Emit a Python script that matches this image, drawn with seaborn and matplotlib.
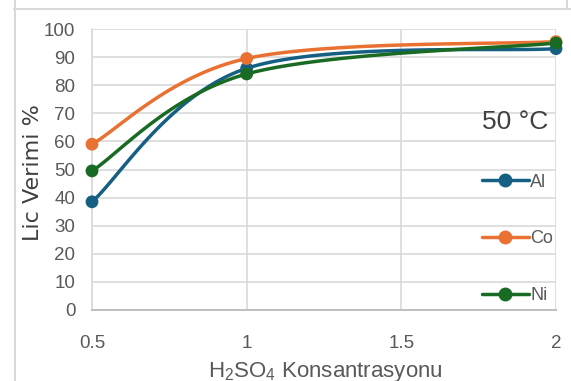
import numpy as np
import pandas as pd
import matplotlib
matplotlib.use("Agg")
import matplotlib.pyplot as plt
import seaborn as sns
from matplotlib.lines import Line2D

# H2SO4 concentration (M) and leaching efficiency (%) at 50 °C
konsantrasyon = [0.5, 1.0, 2.0]
al_verim = [38.5, 86.0, 93.0]
co_verim = [59.0, 89.5, 95.5]
ni_verim = [49.5, 84.0, 95.0]
metaller = ["Al", "Co", "Ni"]
renkler = {"Al": "#156082", "Co": "#E97132", "Ni": "#196B24"}
x_ticks = [0.5, 1, 1.5, 2]
x_tick_labels = ["0.5", "1", "1.5", "2"]
y_ticks = list(range(0, 101, 10))

sns.set_theme(style="white")
plt.rcParams["font.family"] = ["Liberation Sans", "DejaVu Sans"]
plt.rcParams["mathtext.default"] = "regular"

W, H = 571, 381
fig = plt.figure(figsize=(W / 100, H / 100), dpi=100)
ax = fig.add_axes([92 / W, 1 - 310 / H, (556 - 92) / W, (310 - 29) / H])
ax.set_xlim(0.5, 2)
ax.set_ylim(0, 100)


def smooth(xs, ys, n=60):
    """Excel-style smoothed line: cubic Bezier segments built in display space."""
    pts = ax.transData.transform(np.column_stack([xs, ys]))
    ext = np.vstack([pts[0], pts, pts[-1]])
    t = np.linspace(0, 1, n)[:, None]
    parts = []
    for i in range(len(pts) - 1):
        p0, p1, p2, p3 = ext[i], ext[i + 1], ext[i + 2], ext[i + 3]
        c1 = p1 + (p2 - p0) / 6
        c2 = p2 - (p3 - p1) / 6
        seg = (1 - t) ** 3 * p1 + 3 * (1 - t) ** 2 * t * c1 + 3 * (1 - t) * t ** 2 * c2 + t ** 3 * p2
        parts.append(seg if i == 0 else seg[1:])
    return ax.transData.inverted().transform(np.vstack(parts))


seriler = {"Al": al_verim, "Co": co_verim, "Ni": ni_verim}
noktalar = pd.DataFrame(
    [(m, x, y) for m in metaller for x, y in zip(konsantrasyon, seriler[m])],
    columns=["metal", "x", "y"],
)
egriler = []
for m in metaller:
    c = smooth(konsantrasyon, seriler[m])
    egriler.append(pd.DataFrame({"metal": m, "x": c[:, 0], "y": c[:, 1]}))
egriler = pd.concat(egriler, ignore_index=True)

ax.grid(True, color="#d9d9d9", lw=1.2)
ax.set_axisbelow(True)

sns.lineplot(data=egriler, x="x", y="y", hue="metal", palette=renkler,
             sort=False, estimator=None, lw=2.5, legend=False, ax=ax, zorder=3)
sns.scatterplot(data=noktalar, x="x", y="y", hue="metal", palette=renkler,
                s=85, linewidth=0, legend=False, ax=ax, zorder=4, clip_on=False)

ax.set_xticks(x_ticks)
ax.set_xticklabels(x_tick_labels)
ax.set_yticks(y_ticks)
ax.tick_params(length=0, labelsize=13.5, labelcolor="#595959")
ax.tick_params(axis="x", pad=18)
ax.tick_params(axis="y", pad=12)

for s in ["top", "right"]:
    ax.spines[s].set_visible(False)
ax.spines["left"].set_color("#d9d9d9")
ax.spines["left"].set_linewidth(1.2)
ax.spines["bottom"].set_color("#bfbfbf")
ax.spines["bottom"].set_linewidth(1.4)

ax.set_xlabel("H$_2$SO$_4$ Konsantrasyonu", fontsize=16, color="#595959")
ax.xaxis.set_label_coords(0.502, -0.178)
ax.set_ylabel("Lic Verimi %", fontsize=16, color="#404040",
              family=["DejaVu Sans"])
ax.yaxis.set_label_coords(-0.106, 0.49)

ax.text(0.983, 0.669, "50 °C", transform=ax.transAxes, ha="right", va="center",
        fontsize=19, color="#404040")

handles = [Line2D([], [], color=renkler[m], lw=2.5, marker="o", markersize=9)
           for m in metaller]
leg = ax.legend(handles, metaller, loc="upper right", bbox_to_anchor=(0.994, 0.485),
                frameon=False, fontsize=13, labelcolor="#595959",
                labelspacing=2.2, handlelength=2.6, handletextpad=0.1,
                borderaxespad=0, borderpad=0)

# chart frame edges
frame = dict(color="#d9d9d9", lw=1.5, transform=fig.transFigure)
fig.add_artist(Line2D([14.5 / W, 14.5 / W], [0, 1], **frame))
fig.add_artist(Line2D([14 / W, 1], [1 - 9 / H, 1 - 9 / H], **frame))
fig.add_artist(Line2D([567 / W, 567 / W], [1 - 9 / H, 1], **frame))

fig.savefig("out.png", dpi=100)
